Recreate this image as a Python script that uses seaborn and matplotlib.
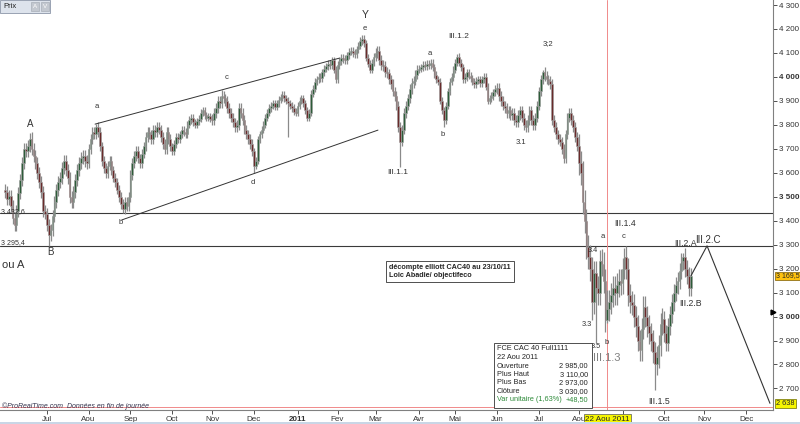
"""Elliott wave count on the CAC 40 future (ProRealTime style screenshot)."""
import matplotlib
matplotlib.use("Agg")
import matplotlib.pyplot as plt
import numpy as np
import pandas as pd
import seaborn as sns
from matplotlib.patches import Rectangle
from matplotlib.transforms import blended_transform_factory

# daily closes, one line per month
closes_2010 = [
    3520, 3490, 3505, 3460, 3410, 3380, 3440, 3515, 3570, 3640, 3700, 3690, 3710, 3740, 3700, 3670, 3640, 3600, 3560, 3520, 3440, 3430,  # Jun
    3380, 3340, 3360, 3420, 3480, 3530, 3560, 3580, 3620, 3650, 3610, 3580, 3500, 3480, 3520, 3570, 3610, 3640, 3660, 3670, 3650, 3640,  # Jul
    3700, 3740, 3770, 3760, 3790, 3770, 3710, 3650, 3620, 3600, 3630, 3650, 3610, 3580, 3560, 3530, 3500, 3470, 3450, 3480, 3460, 3500,  # Aou
    3590, 3640, 3670, 3690, 3660, 3640, 3680, 3710, 3750, 3770, 3760, 3740, 3780, 3770, 3790, 3780, 3750, 3720, 3700, 3770, 3740, 3710,  # Sep
    3690, 3720, 3750, 3740, 3760, 3780, 3770, 3760, 3800, 3820, 3830, 3810, 3800, 3815, 3825, 3850, 3860, 3840, 3830, 3835, 3825,  # Oct
    3820, 3850, 3870, 3900, 3890, 3920, 3910, 3900, 3870, 3850, 3830, 3810, 3790, 3800, 3870, 3850, 3820, 3780, 3760, 3740, 3720, 3690,  # Nov
    3630, 3650, 3740, 3760, 3780, 3800, 3830, 3850, 3870, 3880, 3890, 3875, 3890, 3905, 3915, 3925, 3910, 3900, 3890, 3880, 3870, 3855, 3850,  # Dec
]
closes_2011 = [
    3880, 3900, 3910, 3890, 3860, 3830, 3850, 3930, 3950, 3980, 3990, 4000, 3995, 4020, 4035, 4045, 4055, 4050, 4070, 4030, 3990,  # Jan
    4050, 4065, 4080, 4075, 4070, 4090, 4105, 4110, 4100, 4095, 4115, 4130, 4150, 4160, 4140, 4080, 4055, 4030, 4060, 4085,  # Fev
    4100, 4110, 4070, 4050, 4045, 4020, 4015, 3990, 3970, 3940, 3920, 3880, 3790, 3730, 3780, 3850, 3880, 3910, 3950, 3975, 3985, 4010, 4030,  # Mar
    4035, 4040, 4050, 4045, 4055, 4050, 4060, 4040, 4010, 3990, 3980, 3900, 3860, 3820, 3880, 3940, 3980, 4000, 4030,  # Avr
    4060, 4085, 4060, 4040, 3990, 4000, 4020, 4005, 3995, 3980, 3970, 3985, 3990, 3975, 3990, 4000, 3960, 3900, 3910, 3920, 3935, 3950,  # Mai
    3955, 3920, 3900, 3880, 3870, 3850, 3860, 3840, 3850, 3820, 3810, 3840, 3860, 3830, 3800, 3790, 3820, 3860, 3820, 3800, 3830, 3880,  # Jun
    3940, 3990, 4020, 4005, 3990, 3985, 3970, 3820, 3790, 3760, 3740, 3730, 3700, 3660, 3760, 3830, 3850, 3820, 3790, 3750, 3710,  # Jul
    3640, 3600, 3480, 3400, 3290, 3250, 3200, 3060, 3180, 3120, 3100, 3230, 3220, 3150, 2985, 3030, 3060, 3090, 3120, 3100, 3130, 3150, 3140,  # Aou
    3200, 3250, 3200, 3090, 3060, 3050, 3000, 2960, 2900, 2860, 2950, 3040, 3000, 2960, 2930, 2900, 2850, 2800, 2830, 2880, 2970, 2990,  # Sep
    2930, 2890, 2960, 3010, 3060, 3100, 3130, 3150, 3190, 3230, 3250, 3200, 3170, 3120, 3169.5,  # Oct
]
first_open = 3530
# typical shadow length per month, Jun 2010 .. Oct 2011
wick_by_month = [25, 25, 20, 20, 15, 20, 15, 15, 15, 20, 15, 15, 20, 20, 50, 45, 35]
# notable highs / lows (bar number, price)
peak_idx = [14, 48, 114, 188, 238, 283, 313, 317, 326, 357]
peak_val = [3770, 3805, 3945, 4175, 4095, 4030, 3277, 3110, 3285, 3264]
trough_idx = [23, 62, 131, 149, 208, 231, 309, 311, 317, 342]
trough_val = [3295.4, 3432.6, 3598, 3750, 3625, 3791, 2985, 2890, 2973, 2693]

support_levels = [3432.6, 3295.4]
upper_line_x, upper_line_y = [47.4, 176.3], [3803, 4079]
lower_line_x, lower_line_y = [61.4, 196.3], [3403, 3778]
projection_x, projection_y = [361, 369.5, 402.6], [3169.5, 3295, 2638]
cursor_bar = 317
cursor_price = 3030

# Sep 2011 sits under the cursor date tag, so it stays blank like on screen
month_labels = ["Jul", "Aou", "Sep", "Oct", "Nov", "Dec", "2011", "Fev", "Mar",
                "Avr", "Mai", "Jun", "Jul", "Aou", "", "Oct", "Nov", "Dec"]
price_ticks = list(range(2700, 4400, 100))

info_rows = [("Ouverture", "2 985,00"), ("Plus Haut", "3 110,00"),
             ("Plus Bas", "2 973,00"), ("Clôture", "3 030,00")]

# ---------------------------------------------------------------------------
all_days = pd.bdate_range("2010-06-01", "2011-12-30")
all_days = all_days[~all_days.isin(pd.to_datetime(["2011-04-22", "2011-04-25"]))]
closes = np.array(closes_2010 + closes_2011, dtype=float)
days = all_days[: len(closes)]
idx = np.arange(len(closes))
opens = np.r_[first_open, closes[:-1]]
month_no = (days.year - 2010) * 12 + days.month - 6
wick = np.array(wick_by_month)[month_no]
highs = np.maximum(opens, closes) + wick
lows = np.minimum(opens, closes) - wick
highs[peak_idx] = peak_val
lows[trough_idx] = trough_val
month_starts = [i for i in range(1, len(all_days)) if all_days[i].month != all_days[i - 1].month]

Y_TOP, Y_BOT = 4321, 2610
X_LEFT, X_RIGHT = -5 / 1.9, 768 / 1.9


def px(x, y):
    """pixel position of the screenshot -> data coordinates"""
    return (x - 5) / 1.9, Y_TOP - y * (Y_TOP - Y_BOT) / 410


sns.set_theme(style="white")
plt.rcParams["font.family"] = ["Liberation Sans", "DejaVu Sans"]

fig = plt.figure(figsize=(8, 4.24), dpi=100)
ax = fig.add_axes([0, 14 / 424, 773 / 800, 410 / 424])
ax.set_xlim(X_LEFT, X_RIGHT)
ax.set_ylim(Y_BOT, Y_TOP)

for level in support_levels:
    ax.axhline(level, color="#3a3a3a", lw=0.8, zorder=1)
ax.axvline(cursor_bar, color="#f08a8a", lw=0.7, zorder=1)
ax.axhline(2623, color="#f08a8a", lw=0.7, zorder=1)

up = closes >= opens
ax.vlines(idx, lows, highs, color="#8a8a8a", lw=0.9, zorder=2)
ax.bar(idx, np.maximum(np.abs(closes - opens), 5), bottom=np.minimum(opens, closes),
       width=0.85, color=np.where(up, "#2d5c39", "#692b2b"),
       edgecolor="#a2a2a2", linewidth=0.4, zorder=3)

for lx, ly in [(upper_line_x, upper_line_y), (lower_line_x, lower_line_y)]:
    sns.lineplot(x=lx, y=ly, ax=ax, color="#333333", lw=0.7, zorder=2)
sns.lineplot(x=projection_x, y=projection_y, ax=ax, color="#333333", lw=0.8,
             zorder=2, sort=False)

# axes
ax.yaxis.tick_right()
ax.set_yticks(price_ticks)
ax.set_yticklabels([f"{v:,}".replace(",", " ") for v in price_ticks])
for lab, v in zip(ax.get_yticklabels(), price_ticks):
    if v % 500 == 0:
        lab.set_fontweight("bold")
        lab.set_fontsize(6.3)
ax.set_xticks(month_starts)
ax.set_xticklabels(month_labels)
for lab in ax.get_xticklabels():
    if lab.get_text() == "2011":
        lab.set_fontweight("bold")
        lab.set_fontsize(7.5)
ax.tick_params(axis="y", labelsize=5.8, length=3, width=0.6, pad=1,
               colors="#333333", right=True)
ax.tick_params(axis="x", labelsize=5.8, length=3, width=0.6, pad=1.5,
               colors="#333333", bottom=True)
for side in ["top", "left"]:
    ax.spines[side].set_visible(False)
for side in ["right", "bottom"]:
    ax.spines[side].set_color("#808080")
    ax.spines[side].set_linewidth(0.8)
ax.set_xlabel("")
ax.set_ylabel("")

# price tags on the right axis
ty = blended_transform_factory(ax.transAxes, ax.transData)
ax.text(1.004, closes[-1], "3 169,5", transform=ty, fontsize=5.0, va="center",
        ha="left", clip_on=False, zorder=8,
        bbox=dict(boxstyle="square,pad=0.12", fc="#ffc20e", ec="#7a5a00", lw=0.5))
ax.text(1.004, projection_y[-1], "2 638", transform=ty, fontsize=5.3, va="center",
        ha="left", clip_on=False, zorder=8,
        bbox=dict(boxstyle="square,pad=0.15", fc="#f6f600", ec="#6a6a00", lw=0.5))
ax.plot([1.0], [3020], marker=">", ms=3.5, color="black", transform=ty,
        clip_on=False, zorder=8)

# date tag under the cursor
tx = blended_transform_factory(ax.transData, ax.transAxes)
ax.text(cursor_bar, -0.022, "22 Aou 2011", transform=tx, fontsize=5.8, ha="center",
        va="center", clip_on=False, zorder=9,
        bbox=dict(boxstyle="square,pad=0.15", fc="#f6f600", ec="#555555", lw=0.5))

# wave labels
waves = [
    ("Y", 365, 15, 7.5, "#333333"), ("e", 365, 28, 5.5, "#333333"),
    ("A", 30, 124, 7, "#333333"), ("B", 50, 252, 7, "#333333"),
    ("ou A", 13, 265, 8, "#333333"), ("a", 97, 106, 5.5, "#333333"),
    ("b", 121, 223, 5.5, "#333333"), ("c", 227, 77, 5.5, "#333333"),
    ("d", 253, 183, 5.5, "#333333"), ("a", 430, 53, 5.5, "#333333"),
    ("b", 443, 135, 5.5, "#333333"), ("III.1.1", 398, 172, 6, "#333333"),
    ("III.1.2", 459, 36, 6, "#333333"), ("3;2", 548, 44, 5.5, "#333333"),
    ("3.1", 521, 142, 5.5, "#333333"), ("3.3", 587, 324, 5.3, "#333333"),
    ("3.4", 593, 251, 5.3, "#333333"), ("3.5", 596, 347, 5.3, "#333333"),
    ("b", 607, 343, 5.5, "#333333"),
    ("a", 603, 237, 5.5, "#333333"), ("c", 624, 237, 5.5, "#333333"),
    ("III.1.4", 625, 224, 6.3, "#333333"), ("III.2.A", 686, 244, 6.3, "#333333"),
    ("III.2.C", 708, 240, 7, "#333333"), ("III.2.B", 691, 303, 6.3, "#333333"),
    ("III.1.5", 659, 401, 6.3, "#333333"),
]
for txt, x, y, size, col in waves:
    ax.text(*px(x, y), txt, fontsize=size, color=col, ha="center", va="center", zorder=7)
ax.text(*px(593, 358), "III.1.3", fontsize=8, color="#808080", ha="left",
        va="center", zorder=9)
ax.text(*px(1, 212), "3 432,6", fontsize=5, color="#333333", ha="left", va="center", zorder=7)
ax.text(*px(1, 243), "3 295,4", fontsize=5, color="#333333", ha="left", va="center", zorder=7)

# comment box
ax.text(*px(389, 271.5), "décompte elliott CAC40 au 23/10/11\nLoic Abadie/ objectifeco",
        fontsize=5.2, fontweight="bold", ha="left", va="center", linespacing=1.15,
        zorder=7, bbox=dict(boxstyle="square,pad=0.4", fc="white", ec="#333333", lw=0.6))

# cursor information box
x0, y0 = px(494, 408)
x1, y1 = px(592, 343)
ax.add_patch(Rectangle((x0, y0), x1 - x0, y1 - y0, fc="white", ec="#333333",
                       lw=0.6, zorder=8))
ax.text(*px(497, 349), "FCE CAC 40 Full1111", fontsize=5.3, va="center", zorder=9)
ax.text(*px(497, 357.5), "22 Aou 2011", fontsize=5.3, va="center", zorder=9)
for k, (name, val) in enumerate(info_rows):
    yy = 366 + 8.5 * k
    ax.text(*px(497, yy), name, fontsize=5.3, va="center", zorder=9)
    ax.text(*px(588, yy), val, fontsize=5.3, va="center", ha="right", zorder=9)
ax.text(*px(497, 400), "Var unitaire (1,63%)", fontsize=5.3, va="center",
        color="#2e8b3a", zorder=9)
ax.text(*px(588, 400), "+48,50", fontsize=5.3, va="center", ha="right",
        color="#2e8b3a", zorder=9)

# window chrome
fig.text(0.002, 1 - 406 / 424, "©ProRealTime.com  Données en fin de journée",
         fontsize=5, style="italic", color="#33334d", va="center")
fig.patches.append(Rectangle((0, 1 - 13 / 424), 50 / 800, 13 / 424,
                             transform=fig.transFigure, fc="#dde3ec", ec="#8c96a8", lw=0.6))
fig.text(3 / 800, 1 - 6.5 / 424, "Prix", fontsize=5.5, va="center", color="#222222")
for bx in (31, 41):
    fig.patches.append(Rectangle((bx / 800, 1 - 11 / 424), 8 / 800, 9 / 424,
                                 transform=fig.transFigure, fc="#c3c8d0", ec="#a0a6b0", lw=0.4))
fig.text(35 / 800, 1 - 6.5 / 424, "A", fontsize=4.5, ha="center", va="center", color="white")
fig.text(45 / 800, 1 - 6.5 / 424, "V", fontsize=4.5, ha="center", va="center", color="white")
fig.patches.append(Rectangle((0, 0), 1, 2 / 424, transform=fig.transFigure,
                             fc="#c9d6e6", ec="none"))

fig.savefig("out.png", dpi=100, facecolor="white")
